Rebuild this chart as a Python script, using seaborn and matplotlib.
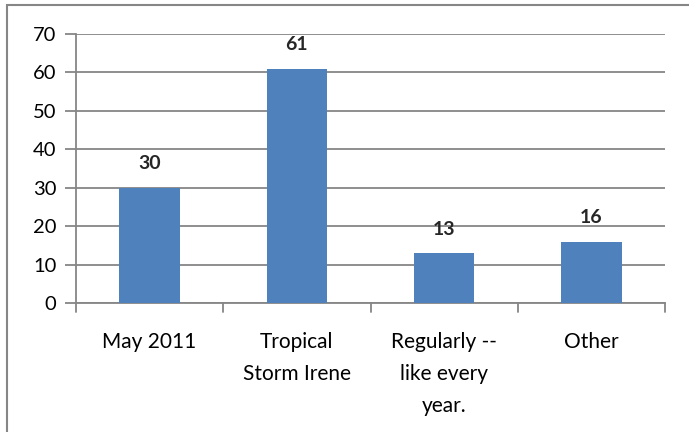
import matplotlib.pyplot as plt
import matplotlib.patches as mpatches
import pandas as pd
import seaborn as sns

categories = ["May 2011", "Tropical\nStorm Irene", "Regularly --\nlike every\nyear.", "Other"]
values = [30, 61, 13, 16]
yticks = [0, 10, 20, 30, 40, 50, 60, 70]

df = pd.DataFrame({"category": categories, "count": values})

sns.set_style("white")
plt.rcParams["font.family"] = ["Lato", "DejaVu Sans"]

fig = plt.figure(figsize=(6.89, 4.32), dpi=100)
ax = fig.add_axes([76 / 689, 1 - 303 / 432, (665 - 76) / 689, (303 - 34) / 432])

sns.barplot(data=df, x="category", y="count", color="#4F81BD", width=0.41,
            saturation=1, ax=ax, zorder=3, edgecolor="none")

ax.set_ylim(0, 70)
ax.set_yticks(yticks)
ax.set_xlim(-0.5, len(categories) - 0.5)
ax.yaxis.grid(True, color="#868686", linewidth=1.3, zorder=0)
ax.set_axisbelow(True)
ax.set_xlabel("")
ax.set_ylabel("")

for side in ["top", "right"]:
    ax.spines[side].set_visible(False)
for side in ["left", "bottom"]:
    ax.spines[side].set_color("#868686")
    ax.spines[side].set_linewidth(1.3)

ax.tick_params(axis="y", labelsize=14.5, length=8, width=1.3, color="#868686",
               left=True, pad=6, labelcolor="black")
ax.tick_params(axis="x", labelsize=15, length=0, pad=21, labelcolor="black")
for lbl in ax.get_xticklabels():
    lbl.set_linespacing(1.75)

# category separator ticks on the x axis
for xb in [i - 0.5 for i in range(len(categories) + 1)]:
    ax.plot([xb, xb], [0, -0.035], transform=ax.get_xaxis_transform(),
            color="#868686", linewidth=1.3, clip_on=False)

for i, v in enumerate(values):
    ax.annotate(str(v), (i, v), xytext=(0, 11), textcoords="offset points",
                ha="center", va="bottom", fontsize=14, fontweight="bold")

# outer chart border
fig.patches.append(mpatches.Rectangle((7 / 689, -0.01), 1.0, 1 - 5 / 432 + 0.01,
                                      transform=fig.transFigure, fill=False,
                                      edgecolor="#868686", linewidth=1.5))

fig.savefig("out.png", dpi=100)
